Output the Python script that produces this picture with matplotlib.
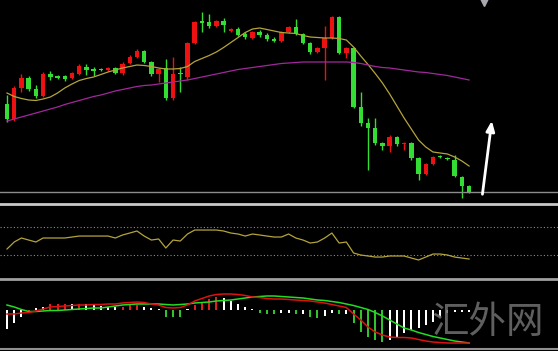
import numpy as np
import matplotlib
matplotlib.use("Agg")
from matplotlib import pyplot as plt

# candles (price units)
opens  = [96,81,112,122,111,104,126,124,124,122,126,133,131,131,130,132,127,137,143,149,
          138,126,132,102,127,123,157,179,178,174,179,169,171,166,162,168,165,161,159,168,
          173,166,157,148,152,162,183,147,152,93,77,72,57,54,63,56,57,42,26,36,
          44,42,40,23,14]
highs  = [105,114,126,124,115,128,129,125,125,128,136,136,133,132,133,133,138,145,151,150,
          139,132,141,143,133,158,179,188,186,180,182,172,173,168,169,170,167,163,169,174,
          181,167,158,153,174,184,184,153,153,108,82,82,58,65,64,58,58,43,37,44,
          45,43,45,24,15]
lows   = [78,79,108,109,102,103,120,121,119,121,125,125,124,129,129,126,125,136,142,137,
          124,118,100,100,108,120,156,168,172,173,168,168,164,161,161,163,159,158,158,167,
          165,156,146,147,120,161,146,142,92,74,30,55,50,48,54,50,40,20,25,35,
          42,40,23,2,7]
closes = [81,112,122,111,104,126,123,122,121,127,134,130,129,130,132,127,136,143,149,138,
          126,131,102,126,126,157,178,177,174,179,175,171,165,163,168,165,161,159,168,173,
          166,157,148,152,162,183,147,152,93,77,72,57,54,63,56,57,42,26,36,43,
          43,41,24,14,8]

ma_short = [107,103.5,101.5,100,99.5,101,103,107,112,116,119.5,121.5,123,125.5,128,130,132,133.5,135,134.5,
            133.5,132,131,131,131.5,133.5,138.5,141.5,144.5,148,152.5,157.5,162.5,167.5,171,172,170.5,169,167.5,167,
            166.5,164.5,163,162.5,162,162,161.5,160,153,144,135.5,126.5,117,106,94,82,71,60,53,48,
            47,46,43,39,34]
ma_long = [79,81,83,85,87,89,91,93,95.5,97.5,99.5,101.5,103.5,105,107,109,110.5,112,113.5,114.5,
           115,116,117,118,119,120,121.5,123,124.5,126,127.5,129,130.5,131.5,132.5,133.5,134.5,135.5,136.5,137,
           137.5,138,138,138,138,138,138,138,137.5,136.5,135,133.5,132.5,132,131,130,129,128,127.5,126.5,
           125.5,124.5,123,121.5,120]

rsi = [38.6,48.6,54.3,51.4,48.6,54.3,54.3,54.3,54.3,55.7,57.1,57.1,57.1,57.1,57.1,54.3,58.6,61.4,64.3,57.1,
       51.4,52.9,40,51.4,50,60,65.7,65.7,65.7,65.7,64.3,61.4,60,57.1,60,58.6,57.1,55.7,55.7,60,
       54.3,51.4,47.1,48.6,54.3,61.4,47.1,48.6,32.9,30,28.6,27.1,27.1,28.6,28.6,28.6,25.7,22.9,27.1,31.4,
       31.4,30,27.1,25.7,24.3]
rsi_levels = [70, 30]

macd_hist = [-19,-13,-7,-3,2,3,6,6,6,6,6,6,5,4,3,3,3,5,5,3,
             2,1,-7,-7,-7,1,5,8,11,13,12,9,6,3,1,-3,-4,-4,-3,-3,
             -4,-4,-7,-8,-6,-3,-4,-4,-13,-22,-27,-30,-32,-30,-28,-23,-20,-18,-15,-12,
             -7,-3,-2,-2,-2]
hist_cols = list("wwwrwwrrrwrwwwwwrrrwwwgggwrrrrwwwwwgggwwgwggwwgwggggg") + ["w"]*12
macd_red = [-4,-4,-3,-2.5,-1,1,3,3.5,4,4.5,5,5,5.5,5.5,6,6,7,7.5,8,7.5,
            6,5,2.5,2,2.5,5,9,11.5,14,15.5,16,16,15.5,14.5,13,12.5,11.5,11,11,10.5,
            10,9.5,9,8,7,5.5,4,2.5,-4,-10,-17,-22,-25,-27,-27.5,-27.5,-28,-29.5,-31,-32,
            -32.5,-33,-33,-33,-33]
macd_green = [5,3,0.5,-1.5,-1.5,-1,-0.5,-0.5,0,0.5,1,1.5,2,2,3,4,5,5.5,6,6,
              6,6,5.5,5,5.5,6,7,7.5,8,9,9.5,10,11,12,13,13.5,14,14,13.5,13,
              12.5,12,11,10,9.5,8.5,7.5,6,4.5,2.5,0.5,-2.5,-6,-10,-14,-18,-20,-22.5,-24.5,-26.5,
              -28,-29.5,-31,-32,-33]

level_line = 8
arrow_from = (65.8, 3)
arrow_to = (67.2, 82)

x = np.arange(len(closes))
o = np.array(opens); c = np.array(closes)
up = c >= o
col = np.where(up, '#ee1111', '#33dd33')

W, H = 558, 351
fig = plt.figure(figsize=(W/100, H/100), dpi=100, facecolor='black')
xl = (-7/7.22, (W-7)/7.22)

ax1 = fig.add_axes([0, (H-203)/H, 1, 203/H])
ax2 = fig.add_axes([0, (H-277)/H, 1, 74/H])
ax3 = fig.add_axes([0, 0, 1, 74/H])
for ax in (ax1, ax2, ax3):
    ax.set_facecolor('black')
    ax.set_xlim(*xl)
    ax.set_xticks([]); ax.set_yticks([])
    for s in ax.spines.values():
        s.set_visible(False)

# main panel
ax1.set_ylim(-3, 200)
ax1.vlines(x, lows, highs, colors=col, lw=1)
body = np.maximum(np.abs(c - o), 1)
ax1.bar(x, body, bottom=np.minimum(o, c), width=0.62, color=col, lw=0)
ax1.plot(x, ma_short, color='#b4a43a', lw=0.9)
ax1.plot(x, ma_long, color='#a0289c', lw=0.9)
ax1.axhline(level_line, color='#8c8c8c', lw=1)
ax1.annotate('', xy=arrow_to, xytext=arrow_from,
             arrowprops=dict(arrowstyle='-|>,head_width=0.25,head_length=0.6', color='white', lw=2))
ax1.plot([66.1], [198.5], marker='v', ms=6, color='#a8a8b0', lw=0)

# indicator panel
ax2.set_ylim(-1.4, 104.3)
for lv in rsi_levels:
    ax2.axhline(lv, color='#8a8aa8', lw=0.8, ls=(0, (1, 2)))
ax2.plot(x, rsi, color='#b4a43a', lw=0.9)
ax2.axhline(102.5, color='#c8c8c8', lw=2)

# macd panel
ax3.set_ylim(-41, 33)
cmap = {'w': 'white', 'r': '#e02020', 'g': '#2ec42e'}
ax3.bar(x, macd_hist, width=0.28, color=[cmap[k] for k in hist_cols], lw=0)
ax3.plot(x, macd_green, color='#22dd22', lw=1.1)
ax3.plot(x, macd_red, color='#dd1111', lw=1.1)
ax3.axhline(31.5, color='#a0a0a0', lw=2)
ax3.axhline(-38.5, color='#909090', lw=1.5)

fig.text(488/W, 1-322/H, '汇外网', color='#6a6a6a', fontsize=27,
         family=['Noto Sans CJK SC', 'DejaVu Sans'], ha='center', va='center', alpha=0.9)

fig.savefig('out.png', dpi=100, facecolor='black')
